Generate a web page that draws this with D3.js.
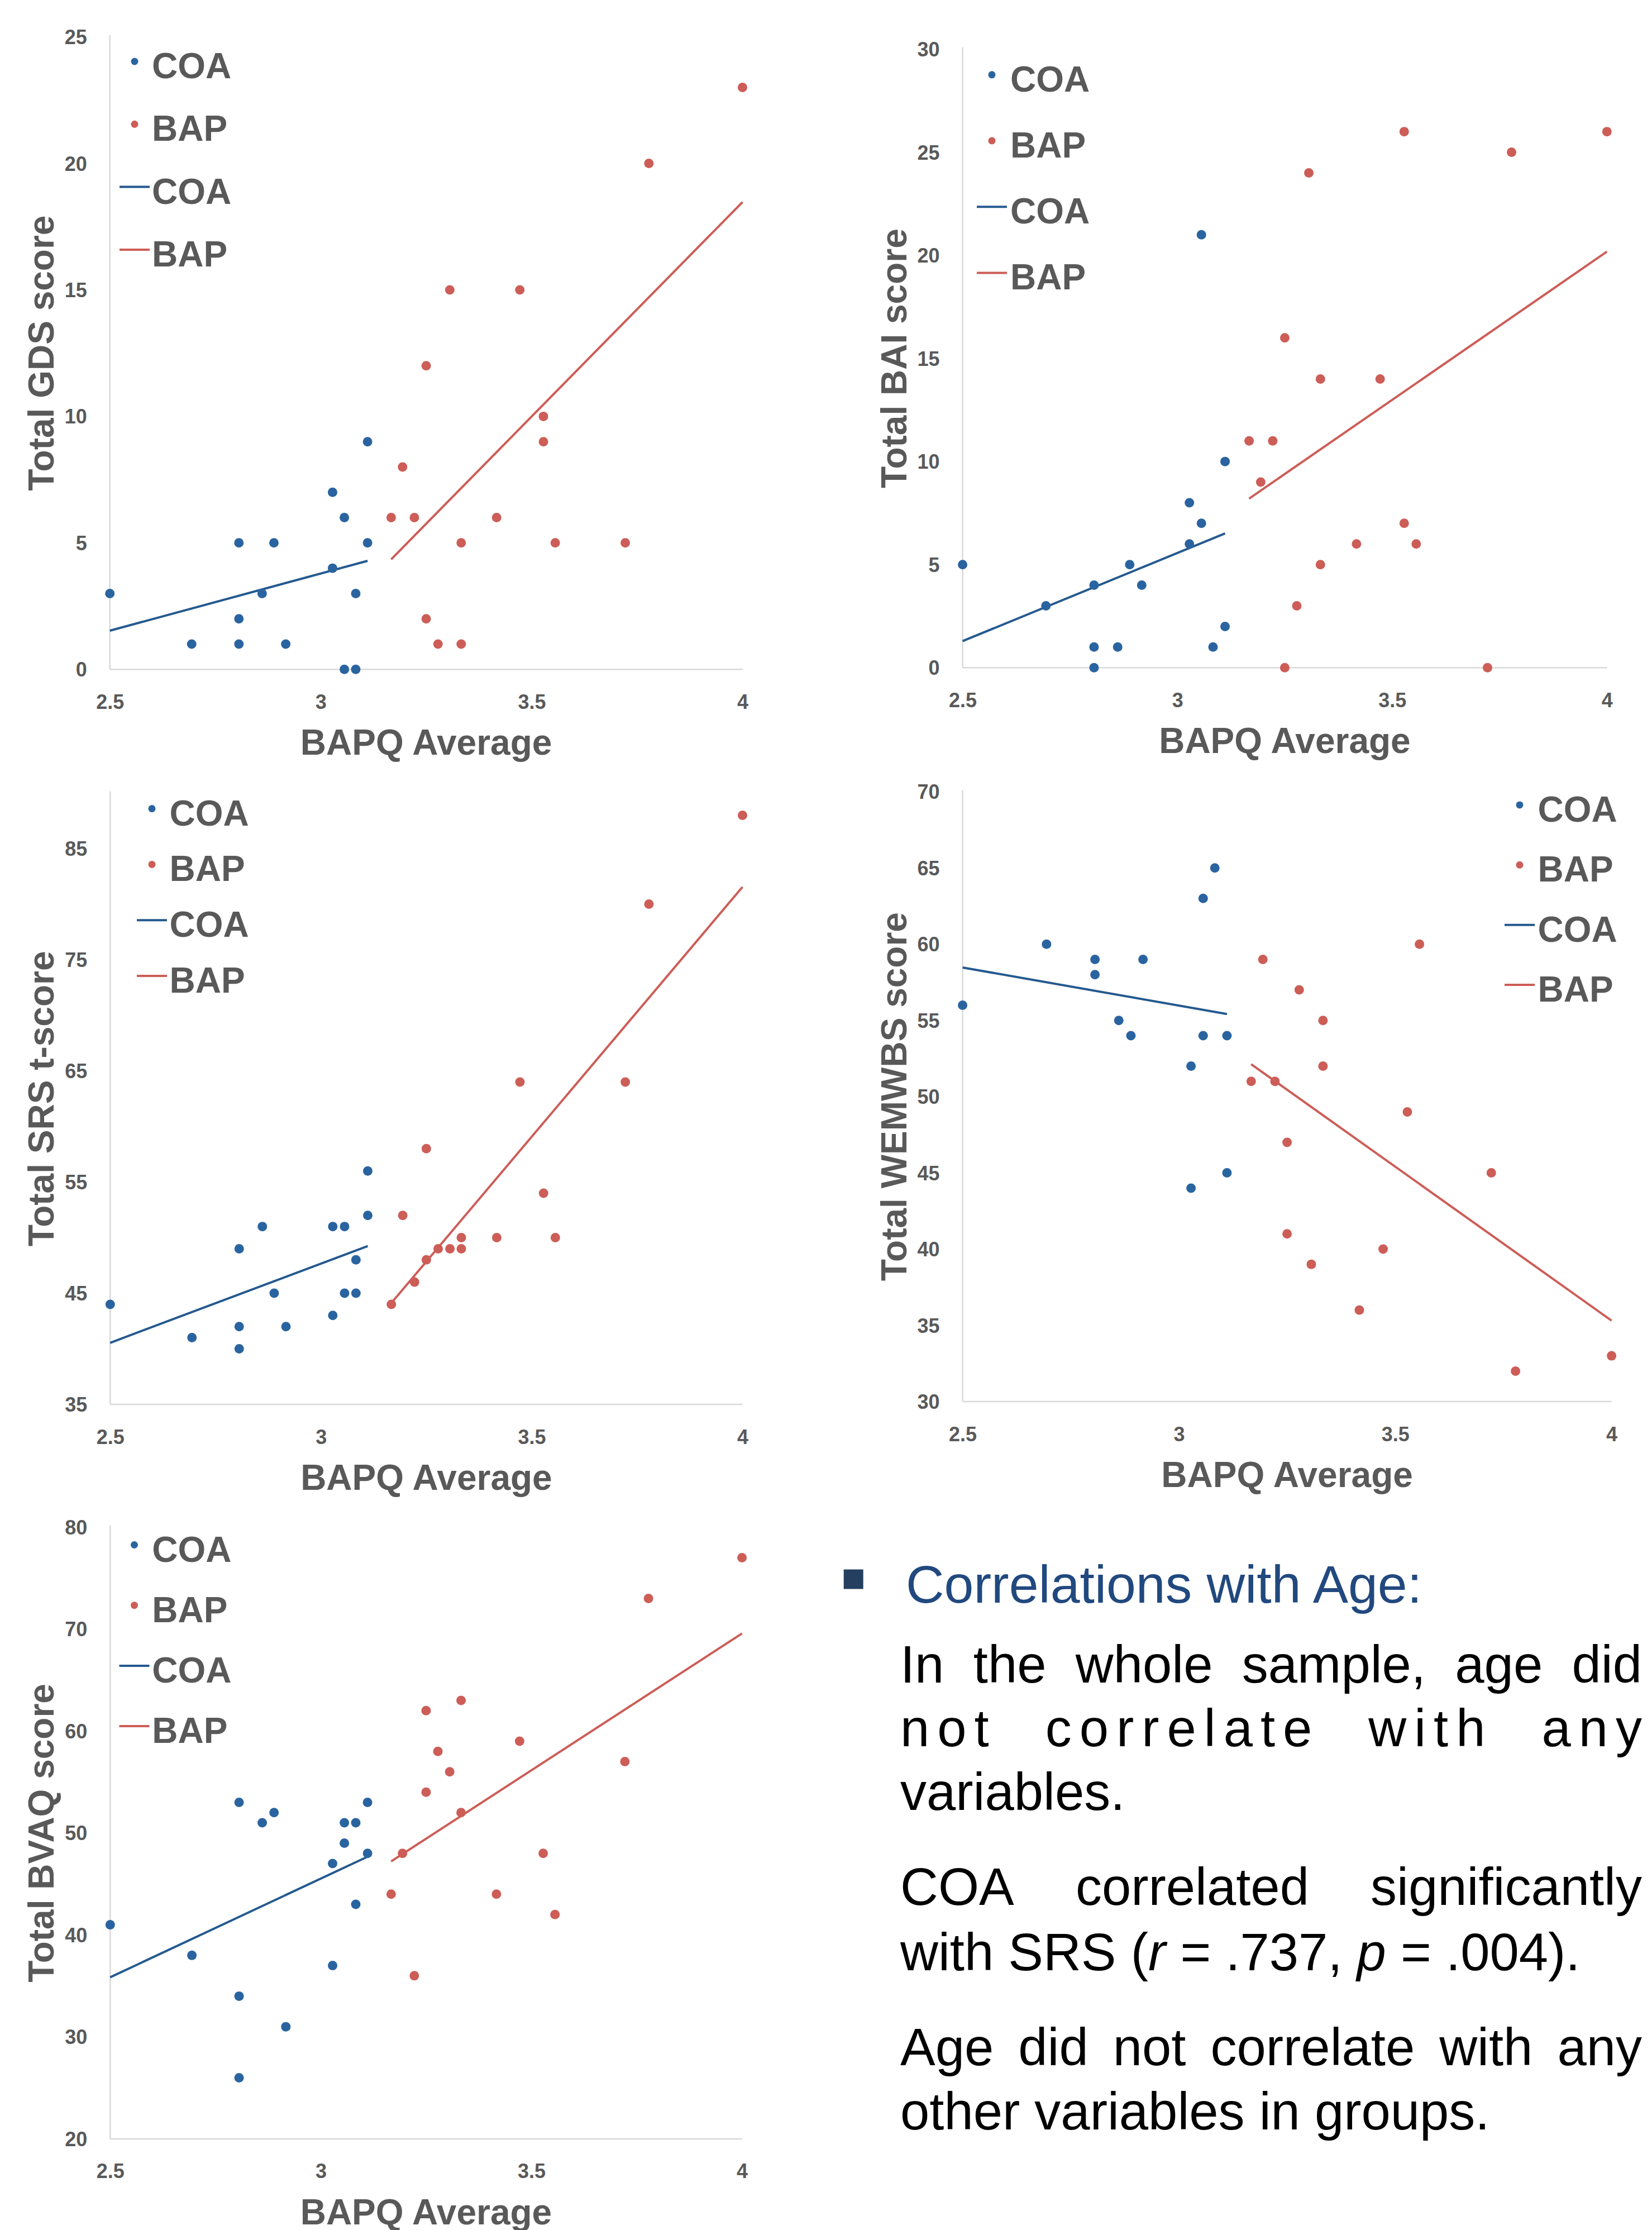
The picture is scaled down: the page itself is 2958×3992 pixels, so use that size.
<!DOCTYPE html>
<html>
<head>
<meta charset="utf-8">
<script src="https://cdn.jsdelivr.net/npm/d3@7"></script>
<style>
  html, body { margin: 0; padding: 0; background: #ffffff; }
  svg { display: block; }
</style>
</head>
<body>
<script>
// ---------------- DATA ----------------
const xTickValues = [2.5, 3, 3.5, 4];
const xTickLabels = ["2.5", "3", "3.5", "4"];
const xAxisTitle = "BAPQ Average";
const seriesNames = ["COA", "BAP"];

// GDS
const gdsTicks = [0, 5, 10, 15, 20, 25];
const gdsCOA = [[2.5,3],[2.694,1],[2.806,5],[2.806,2],[2.806,1],[2.861,3],[2.889,5],[2.917,1],[3.028,7],[3.028,4],[3.056,6],[3.056,0],[3.083,0],[3.083,3],[3.111,9],[3.111,5]];
const gdsBAP = [[3.167,6],[3.194,8],[3.222,6],[3.25,12],[3.25,2],[3.278,1],[3.306,15],[3.333,5],[3.333,1],[3.417,6],[3.472,15],[3.528,10],[3.528,9],[3.556,5],[3.722,5],[3.778,20],[4,23]];
const gdsCOAfit = [[2.5,1.53],[3.111,4.29]];
const gdsBAPfit = [[3.167,4.35],[4,18.47]];

// BAI
const baiTicks = [0, 5, 10, 15, 20, 25, 30];
const baiCOA = [[2.5,5],[2.694,3],[2.806,4],[2.806,1],[2.806,0],[2.861,1],[2.889,5],[2.917,4],[3.028,8],[3.028,6],[3.056,21],[3.056,7],[3.083,1],[3.111,10],[3.111,2]];
const baiBAP = [[3.167,11],[3.194,9],[3.222,11],[3.25,16],[3.25,0],[3.278,3],[3.306,24],[3.333,14],[3.333,5],[3.417,6],[3.472,14],[3.528,26],[3.528,7],[3.556,6],[3.722,0],[3.778,25],[4,26]];
const baiCOAfit = [[2.5,1.29],[3.111,6.51]];
const baiBAPfit = [[3.167,8.2],[4,20.18]];

// SRS
const srsTicks = [35, 45, 55, 65, 75, 85];
const srsCOA = [[2.5,44],[2.694,41],[2.806,49],[2.806,42],[2.806,40],[2.861,51],[2.889,45],[2.917,42],[3.028,51],[3.028,43],[3.056,51],[3.056,45],[3.083,48],[3.083,45],[3.111,56],[3.111,52]];
const srsBAP = [[3.167,44],[3.194,52],[3.222,46],[3.25,48],[3.25,58],[3.278,49],[3.306,49],[3.333,50],[3.333,49],[3.417,50],[3.472,64],[3.528,54],[3.556,50],[3.722,64],[3.778,80],[4,88]];
const srsCOAfit = [[2.5,40.54],[3.111,49.24]];
const srsBAPfit = [[3.167,44.12],[4,81.55]];

// WEMWBS
const wemTicks = [30, 35, 40, 45, 50, 55, 60, 65, 70];
const wemCOA = [[2.5,56],[2.694,60],[2.806,59],[2.806,58],[2.861,55],[2.889,54],[2.917,59],[3.028,52],[3.028,44],[3.056,63],[3.056,54],[3.083,65],[3.111,54],[3.111,45]];
const wemBAP = [[3.167,51],[3.194,59],[3.222,51],[3.25,47],[3.25,41],[3.278,57],[3.306,39],[3.333,55],[3.333,52],[3.417,36],[3.472,40],[3.528,49],[3.556,60],[3.722,45],[3.778,32],[4,33]];
const wemCOAfit = [[2.5,58.47],[3.111,55.42]];
const wemBAPfit = [[3.167,52.13],[4,35.31]];

// BVAQ
const bvaqTicks = [20, 30, 40, 50, 60, 70, 80];
const bvaqCOA = [[2.5,41],[2.694,38],[2.806,53],[2.806,34],[2.806,26],[2.861,51],[2.889,52],[2.917,31],[3.028,47],[3.028,37],[3.056,51],[3.056,49],[3.083,51],[3.083,43],[3.111,53],[3.111,48]];
const bvaqBAP = [[3.167,44],[3.194,48],[3.222,36],[3.25,62],[3.25,54],[3.278,58],[3.306,56],[3.333,63],[3.333,52],[3.417,44],[3.472,59],[3.528,48],[3.556,42],[3.722,57],[3.778,73],[4,77]];
const bvaqCOAfit = [[2.5,35.85],[3.111,47.68]];
const bvaqBAPfit = [[3.167,47.22],[4,69.57]];

// Text block
const bulletTitle = "Correlations with Age:";
const paragraphs = [
  ["In the whole sample, age did", "not correlate with any", "variables."],
  ["COA correlated significantly", "with SRS (r = .737, p = .004)."],
  ["Age did not correlate with any", "other variables in groups."]
];

// ---------------- STYLE / LAYOUT ----------------
const W = 2958, H = 3992;
const BLUE = "#2a64a0", BLUE_LINE = "#24598f", RED = "#cd5d57", GRAY = "#595959", AXIS = "#d9d9d9";
const FONT = "'Liberation Sans', Arial, Helvetica, sans-serif";

const panels = [
  {coa: gdsCOA, bap: gdsBAP, coaFit: gdsCOAfit, bapFit: gdsBAPfit, yDomain: [0, 25], ticks: gdsTicks,
   title: "Total GDS score", x0: 196.7, x1: 1329.5, y0: 1198.3, y1: 66,
   leg: {mx: 241, tx: 272, y: 117, step: 112.3}},
  {coa: baiCOA, bap: baiBAP, coaFit: baiCOAfit, bapFit: baiBAPfit, yDomain: [0, 30], ticks: baiTicks,
   title: "Total BAI score", x0: 1723.6, x1: 2877.3, y0: 1195.2, y1: 88,
   leg: {mx: 1776, tx: 1809, y: 140.8, step: 118.2}},
  {coa: srsCOA, bap: srsBAP, coaFit: srsCOAfit, bapFit: srsBAPfit, yDomain: [35, 90], ticks: srsTicks,
   title: "Total SRS t-score", x0: 197.3, x1: 1329.5, y0: 2514, y1: 1419.6,
   leg: {mx: 272, tx: 303.6, y: 1454.6, step: 99.8}},
  {coa: wemCOA, bap: wemBAP, coaFit: wemCOAfit, bapFit: wemBAPfit, yDomain: [30, 70], ticks: wemTicks,
   title: "Total WEMWBS score", x0: 1723.6, x1: 2885.6, y0: 2509, y1: 1417.3,
   leg: {mx: 2721, tx: 2753.5, y: 1447.9, step: 107.4}},
  {coa: bvaqCOA, bap: bvaqBAP, coaFit: bvaqCOAfit, bapFit: bvaqBAPfit, yDomain: [20, 80], ticks: bvaqTicks,
   title: "Total BVAQ score", x0: 197.3, x1: 1328.6, y0: 3828.9, y1: 2733.8,
   leg: {mx: 240.5, tx: 272.3, y: 2772.5, step: 108.2}}
];

const svg = d3.select("body").append("svg")
  .attr("width", W).attr("height", H)
  .attr("viewBox", `0 0 ${W} ${H}`);
svg.append("rect").attr("width", W).attr("height", H).attr("fill", "#ffffff");

panels.forEach(p => {
  const g = svg.append("g");
  const x = d3.scaleLinear().domain([2.5, 4]).range([p.x0, p.x1]);
  const y = d3.scaleLinear().domain(p.yDomain).range([p.y0, p.y1]);

  // axis lines
  g.append("line").attr("x1", p.x0).attr("x2", p.x0).attr("y1", p.y1 - 3).attr("y2", p.y0)
    .attr("stroke", AXIS).attr("stroke-width", 2.5);
  g.append("line").attr("x1", p.x0).attr("x2", p.x1).attr("y1", p.y0).attr("y2", p.y0)
    .attr("stroke", AXIS).attr("stroke-width", 2.5);

  // y axis labels
  const ya = g.append("g").attr("transform", `translate(${p.x0},0)`)
    .call(d3.axisLeft(y).tickValues(p.ticks).tickSize(0).tickPadding(41).tickFormat(d3.format("d")));
  ya.select(".domain").remove();
  ya.selectAll("text").attr("font-family", FONT).attr("font-size", 36).attr("font-weight", "bold")
    .attr("fill", GRAY).attr("dy", "0.35em");

  // x axis labels
  const xa = g.append("g").attr("transform", `translate(0,${p.y0})`)
    .call(d3.axisBottom(x).tickValues(xTickValues).tickSize(0).tickPadding(45)
      .tickFormat((d, i) => xTickLabels[i]));
  xa.select(".domain").remove();
  xa.selectAll("text").attr("font-family", FONT).attr("font-size", 36).attr("font-weight", "bold")
    .attr("fill", GRAY);

  // titles
  g.append("text").attr("x", (p.x0 + p.x1) / 2).attr("y", p.y0 + 153)
    .attr("text-anchor", "middle").attr("font-family", FONT).attr("font-size", 64)
    .attr("font-weight", "bold").attr("fill", GRAY).text(xAxisTitle);
  const tx = p.x0 - 101, ty = (p.y0 + p.y1) / 2;
  g.append("text").attr("transform", `translate(${tx},${ty}) rotate(-90)`)
    .attr("text-anchor", "middle").attr("font-family", FONT).attr("font-size", 64)
    .attr("font-weight", "bold").attr("fill", GRAY).text(p.title);

  // trend lines
  const line = d3.line().x(d => x(d[0])).y(d => y(d[1]));
  g.append("path").attr("d", line(p.coaFit)).attr("fill", "none")
    .attr("stroke", BLUE_LINE).attr("stroke-width", 4);
  g.append("path").attr("d", line(p.bapFit)).attr("fill", "none")
    .attr("stroke", RED).attr("stroke-width", 4);

  // points
  g.append("g").selectAll("circle").data(p.coa).join("circle")
    .attr("cx", d => x(d[0])).attr("cy", d => y(d[1])).attr("r", 8.5).attr("fill", BLUE);
  g.append("g").selectAll("circle").data(p.bap).join("circle")
    .attr("cx", d => x(d[0])).attr("cy", d => y(d[1])).attr("r", 8.5).attr("fill", RED);

  // legend
  const L = p.leg;
  const items = [
    {name: seriesNames[0], type: "dot", color: BLUE},
    {name: seriesNames[1], type: "dot", color: RED},
    {name: seriesNames[0], type: "line", color: BLUE_LINE},
    {name: seriesNames[1], type: "line", color: RED}
  ];
  items.forEach((it, i) => {
    const cy = L.y + i * L.step;
    if (it.type === "dot") {
      g.append("circle").attr("cx", L.mx).attr("cy", cy - 7).attr("r", 6.5).attr("fill", it.color);
    } else {
      g.append("line").attr("x1", L.mx - 27).attr("x2", L.mx + 27).attr("y1", cy - 7).attr("y2", cy - 7)
        .attr("stroke", it.color).attr("stroke-width", 4);
    }
    g.append("text").attr("x", L.tx).attr("y", cy + 23).attr("font-family", FONT)
      .attr("font-size", 64).attr("font-weight", "bold").attr("fill", GRAY).text(it.name);
  });
});

// ---------------- TEXT BLOCK ----------------
svg.append("rect").attr("x", 1510.7).attr("y", 2809.5).attr("width", 35).attr("height", 35)
  .attr("fill", "#243f60");
svg.append("text").attr("x", 1622).attr("y", 2869).attr("font-family", FONT)
  .attr("font-size", 95).attr("fill", "#21497f").text(bulletTitle);

const bodyX = 1612, bodyRight = 2940, bodySize = 94;
const baselines = [[3011.5, 3126, 3239.7], [3410.3, 3526.5], [3697, 3812.4]];
// justify flags and letter spacing per line
const justify = [[true, true, false], [true, false], [true, false]];
const letterSp = [[0, 14, 0], [0, 0], [0, 0]];

function justifiedLine(str, yb, ls) {
  const words = str.split(" ");
  const nodes = words.map(w => svg.append("text").attr("x", 0).attr("y", yb)
    .attr("font-family", FONT).attr("font-size", bodySize).attr("fill", "#000000")
    .style("letter-spacing", ls + "px").text(w));
  const widths = nodes.map(n => n.node().getComputedTextLength() - ls);
  const total = d3.sum(widths);
  const gap = (bodyRight - bodyX - total) / (words.length - 1);
  let cx = bodyX;
  nodes.forEach((n, i) => { n.attr("x", cx); cx += widths[i] + gap; });
}

paragraphs.forEach((para, pi) => {
  para.forEach((str, li) => {
    const yb = baselines[pi][li];
    if (justify[pi][li]) {
      justifiedLine(str, yb, letterSp[pi][li]);
    } else if (str.indexOf("(r") >= 0) {
      // line with italic statistics
      const t = svg.append("text").attr("x", bodyX).attr("y", yb).attr("font-family", FONT)
        .attr("font-size", bodySize).attr("fill", "#000000");
      const parts = str.split(/(\br\b|\bp\b)/);
      parts.forEach(s => {
        if (!s) return;
        const ts = t.append("tspan").text(s);
        if (s === "r" || s === "p") ts.attr("font-style", "italic");
      });
    } else {
      svg.append("text").attr("x", bodyX).attr("y", yb).attr("font-family", FONT)
        .attr("font-size", bodySize).attr("fill", "#000000").text(str);
    }
  });
});
</script>
</body>
</html>
